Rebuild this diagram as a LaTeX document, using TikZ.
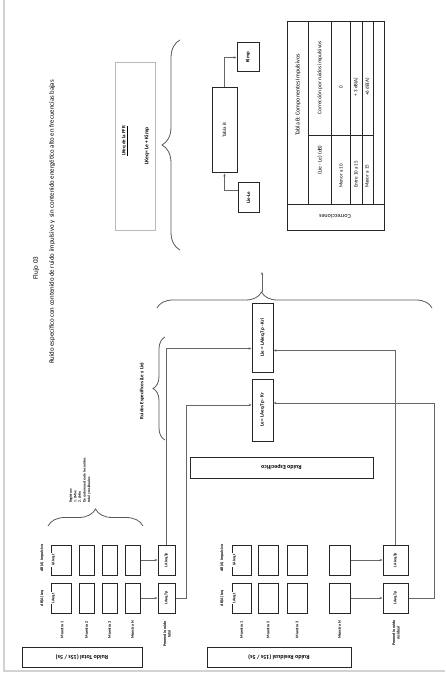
\documentclass[tikz,border=0pt]{standalone}
\usepackage{fontspec}
\setmainfont{Carlito}
\usepackage{graphicx}
\usetikzlibrary{arrows.meta, positioning, decorations.pathreplacing}
\newcommand{\vtext}[1]{\rotatebox{90}{#1}}
\newcommand{\ftext}[1]{\rotatebox{180}{#1}}

\begin{document}
\begin{tikzpicture}[
        x=1pt, y=-1pt,
        >={Stealth[length=3pt, width=2.4pt]},
        box/.style={draw=black!85, line width=1pt, inner sep=0pt, font=\bfseries\fontsize{4}{5}\selectfont},
        cell/.style={box, minimum height=30pt, minimum width=#1},
        title/.style={draw=black!85, line width=1pt, inner sep=0pt, font=\bfseries\fontsize{6}{7}\selectfont},
        tag/.style={fill=white, inner sep=0.8pt, font=\bfseries\fontsize{4}{5}\selectfont},
        lbl/.style={rotate=90, align=center, inner sep=0pt, font=\bfseries\fontsize{4}{4.6}\selectfont},
        link/.style={->, black!60, line width=0.7pt},
        curly/.style={decorate, decoration={brace, amplitude=#1}, black!65, line width=0.8pt}
    ]
        \useasboundingbox (0,0) rectangle (445,676);
        \draw[gray!35, line width=1.5pt] (4,0) -- (4,671) -- (445,671);

        % Titles
        \node[lbl, font=\fontsize{7}{8}\selectfont] (flujo) at (36,268) {Flujo 03};
        \node[lbl, font=\fontsize{6.8}{8}\selectfont] (subt) at (52,222) {Ruido específico con contenido de ruido impulsivo y \ sin contenido energético alto en frecuencias bajas};

        % Ruido total
        \node[title, minimum width=120pt, minimum height=20pt] (rtotal) at (82,657) {\ftext{Ruido Total (15s / 5s)}};
        \node[lbl] at (42,598) {dB(A) Leq};
        \node[lbl] at (42,558) {dB(A) Impulsivo};
        \node[cell=20pt] (tm1l) at (61,598) {};
        \node[cell=20pt] (tm1i) at (61,560) {};
        \node[tag] at ([xshift=3pt]tm1l.west) {\vtext{LAeq,t}};
        \node[tag] at ([xshift=3pt]tm1i.west) {\vtext{LAIeq,t}};
        \node[cell=15pt] (tm2l) at (86.5,598) {};
        \node[cell=15pt] (tm2i) at (86.5,560) {};
        \node[cell=15pt] (tm3l) at (109.5,598) {};
        \node[cell=15pt] (tm3i) at (109.5,560) {};
        \node[cell=15pt] (tmnl) at (132.5,598) {};
        \node[cell=15pt] (tmni) at (132.5,560) {};
        \node[cell=17pt] (tpl) at (166.5,598) {\vtext{LAeq,Tp}};
        \node[cell=17pt] (tpi) at (166.5,560) {\vtext{LAIeq,Tp}};
        \node[lbl] at (62,630) {Muestra 1};
        \node[lbl] at (86.5,630) {Muestra 2};
        \node[lbl] at (109.5,630) {Muestra 3};
        \node[lbl] at (132.5,630) {Muestra N};
        \node[lbl] at (167,634) {Promedio ruido\\total};
        \draw[link] (tmnl) -- (tpl);
        \draw[link] (tmni) -- (tpi);

        % Registro de cada muestra
        \draw[curly=17pt] (48,526) -- (143,526);
        \node[lbl, align=left, anchor=west, font=\bfseries\fontsize{3.6}{4.6}\selectfont] (reg) at (80,503) {Registrar:\\1. LMax\\2. LMin\\De cada muestra de los ruidos\\total y residuales};

        % Ruido residual
        \node[title, minimum width=144pt, minimum height=20pt] (rresid) at (279,657) {\ftext{Ruido Residual (15s / 5s)}};
        \node[lbl] at (222,598) {dB(A) Leq};
        \node[lbl] at (222,558) {dB(A) Impulsivo};
        \node[cell=19pt] (rm1l) at (241.5,598) {};
        \node[cell=19pt] (rm1i) at (241.5,560) {};
        \node[tag] at ([xshift=3pt]rm1l.west) {\vtext{LAeq,t}};
        \node[tag] at ([xshift=3pt]rm1i.west) {\vtext{LAIeq,t}};
        \node[cell=20pt] (rm2l) at (268,598) {};
        \node[cell=20pt] (rm2i) at (268,560) {};
        \node[cell=20pt] (rm3l) at (297,598) {};
        \node[cell=20pt] (rm3i) at (297,560) {};
        \node[cell=21pt] (rmnl) at (339.5,598) {};
        \node[cell=21pt] (rmni) at (339.5,560) {};
        \node[cell=25pt] (rpl) at (395.5,598) {\vtext{LAeq,Tp}};
        \node[cell=25pt] (rpi) at (395.5,560) {\vtext{LAIeq,Tp}};
        \node[lbl] at (241.5,630) {Muestra 1};
        \node[lbl] at (268,630) {Muestra 2};
        \node[lbl] at (297,630) {Muestra 3};
        \node[lbl] at (339.5,630) {Muestra N};
        \node[lbl] at (396,633) {Promedio ruido\\residual};
        \draw[link] (rmnl) -- (rpl);
        \draw[link] (rmni) -- (rpi);

        % Ruido especifico
        \node[title, minimum width=183pt, minimum height=21pt] (respec) at (281.5,467.5) {\ftext{Ruido Específico}};
        \node[box, minimum width=21pt, minimum height=69pt, font=\bfseries\fontsize{5}{6}\selectfont] (lie) at (262.5,337.5) {\vtext{Lie = LAIeq,Tp - Kri}};
        \node[box, minimum width=21pt, minimum height=62pt, font=\bfseries\fontsize{5}{6}\selectfont, below=6pt of lie] (le) {\vtext{Le = LAeq,Tp - Kr}};
        \draw[link] (tpi.north) |- ([yshift=-11pt]lie.west);
        \draw[link] (tpl.east) -- ++(11,0) |- ([yshift=5pt]le.west);
        \draw[link] (rpi.north) |- ([yshift=-13pt]lie.east);
        \draw[link] (rpl.east) -- ++(26,0) |- ([yshift=7pt]le.east);
        \draw[curly=12pt] (165,440) -- (165,337);
        \node[lbl, font=\bfseries\fontsize{5}{6}\selectfont] (rlbl) at (142,391) {Ruidos Específicos (Le y Lie)};

        % Hacia el LKeq
        \draw[curly=16pt, decoration={aspect=0.38}] (157,308) -- (432,308);
        \coordinate (btip) at (262,292);
        \coordinate (bup) at (262,272);
        \draw[link] (btip) -- (bup);

        % LKeq de la FFR
        \node[draw=gray!55, line width=0.6pt, minimum width=40pt, minimum height=168pt] (lkeq) at (135,146) {};
        \node[lbl, font=\bfseries\fontsize{5}{6}\selectfont] at (125,141) {\underline{LKeq de la FFR}};
        \node[lbl, font=\bfseries\fontsize{5.5}{6}\selectfont] at (147,146) {LKeq= Le + Kimp};
        \draw[curly=18pt] (180,250) -- (180,40);
        \node[box, minimum width=25pt, minimum height=85pt, font=\fontsize{5}{6}\selectfont] (tablab) at (224.5,130.5) {\vtext{Tabla B}};
        \node[box, minimum width=22pt, minimum height=29pt, font=\bfseries\fontsize{5}{6}\selectfont] (kimp) at (248,57.5) {\vtext{Kimp}};
        \node[box, minimum width=21pt, minimum height=29pt, font=\bfseries\fontsize{5}{6}\selectfont] (lile) at (248.5,197.5) {\vtext{Lie-Le}};
        \draw[link] ([yshift=7.5pt]lile.west) -| (tablab.south);
        \draw[link] (tablab.north) |- (kimp.west);

        % Tabla B
        \draw[black!85, line width=1pt] (287,22) rectangle (384,230);
        \draw[black!85, line width=0.7pt] (287,204) -- (384,204) (308,22) -- (308,204) (331,22) -- (331,204)
            (350,22) -- (350,204) (362,22) -- (362,204) (373,22) -- (373,204) (308,135) -- (373,135);
        \node[lbl, font=\fontsize{6}{7}\selectfont] at (298,95) {Tabla B: Componentes Impulsivos};
        \node[lbl, font=\fontsize{5.5}{6}\selectfont] at (320,160) {(Lie - Le) (dB)};
        \node[lbl, font=\fontsize{5.5}{6}\selectfont] at (320,78) {Corrección por ruidos impulsivos};
        \node[lbl, anchor=west, font=\fontsize{5}{6}\selectfont] at (341,188) {Menor a 10};
        \node[lbl, anchor=west, font=\fontsize{5}{6}\selectfont] at (356,188) {Entre 10 a 15};
        \node[lbl, anchor=west, font=\fontsize{5}{6}\selectfont] at (367.5,188) {Mayor a 15};
        \node[lbl, font=\fontsize{5}{6}\selectfont] at (341,87) {0};
        \node[lbl, font=\fontsize{5}{6}\selectfont] at (356,87) {+ 3 dB(A)};
        \node[lbl, font=\fontsize{5}{6}\selectfont] at (367.5,87) {+6 dB(A)};
        \node[rotate=180, font=\fontsize{6}{7}\selectfont] at (335,217) {Correcciones};

    \end{tikzpicture}
\end{document}
